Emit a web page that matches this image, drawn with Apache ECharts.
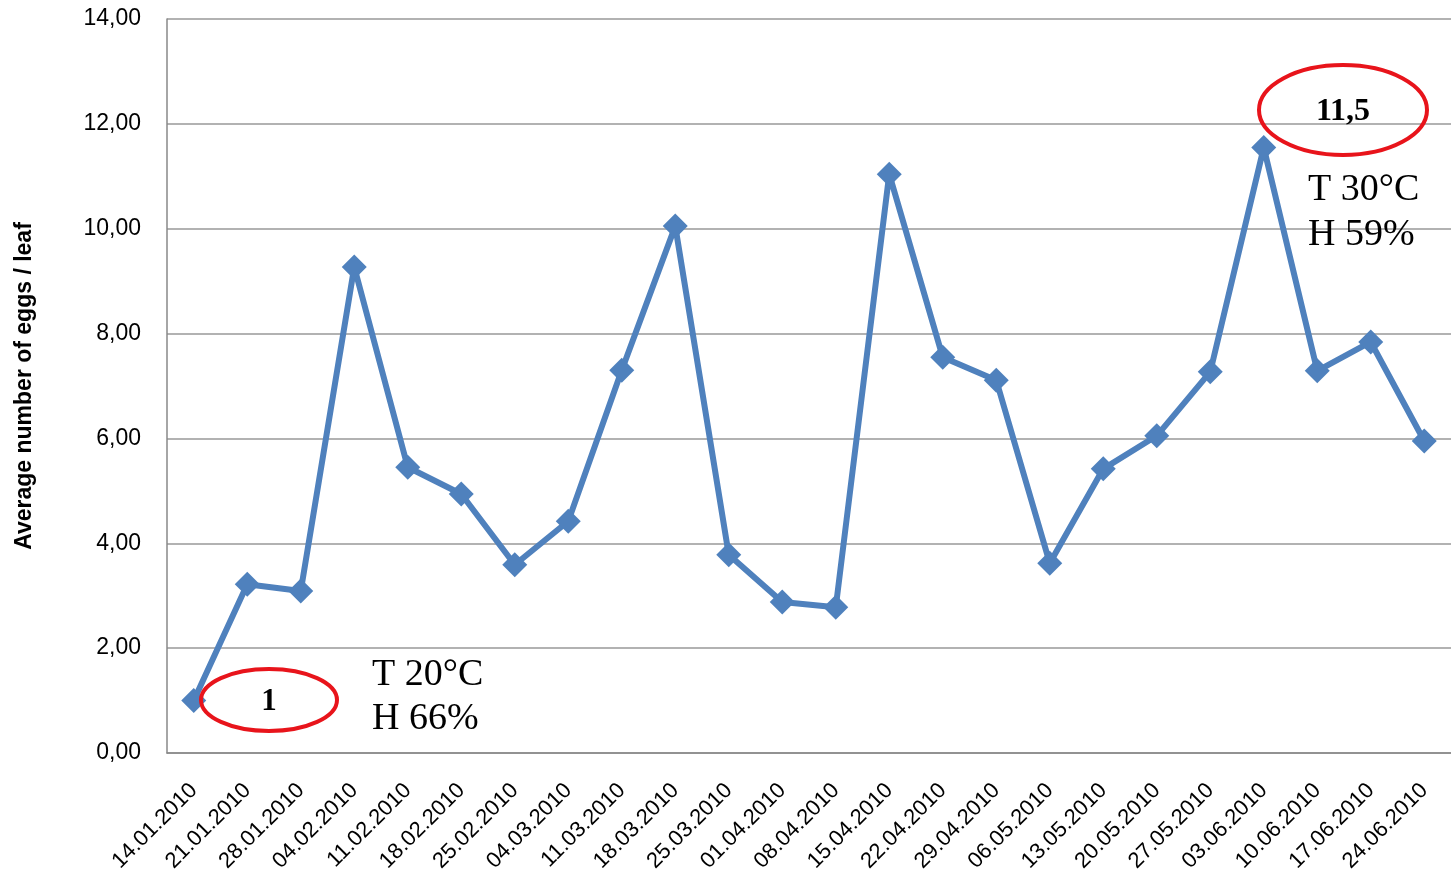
<!DOCTYPE html>
<html>
<head>
<meta charset="utf-8">
<script src="https://cdn.jsdelivr.net/npm/echarts@6/dist/echarts.min.js"></script>
<style>html,body{margin:0;padding:0;background:#fff;}#c{width:1451px;height:880px;}</style>
</head>
<body>
<div id="c"></div>
<script>
const categories = ['14.01.2010','21.01.2010','28.01.2010','04.02.2010','11.02.2010','18.02.2010','25.02.2010','04.03.2010','11.03.2010','18.03.2010','25.03.2010','01.04.2010','08.04.2010','15.04.2010','22.04.2010','29.04.2010','06.05.2010','13.05.2010','20.05.2010','27.05.2010','03.06.2010','10.06.2010','17.06.2010','24.06.2010'];
const eggs = [1.00,3.22,3.09,9.27,5.45,4.94,3.59,4.42,7.30,10.05,3.78,2.88,2.78,11.04,7.55,7.11,3.62,5.42,6.05,7.27,11.55,7.29,7.84,5.95];
const yAxisName = 'Average number of eggs / leaf';
const notes = [
  {label:'1', lines:['T 20°C','H 66%']},
  {label:'11,5', lines:['T 30°C','H 59%']}
];

const chart = echarts.init(document.getElementById('c'));
chart.setOption({
  animation:false,
  grid:{left:167, top:19, right:0, bottom:127, outerBoundsMode:'none', containLabel:false},
  xAxis:{
    type:'category', data:categories, boundaryGap:true,
    axisLine:{lineStyle:{color:'#888', width:1.5}},
    axisTick:{show:false},
    axisLabel:{rotate:45, fontSize:22, color:'#000', fontFamily:'Liberation Sans', margin:34, interval:0}
  },
  yAxis:{
    type:'value', min:0, max:14, interval:2,
    name:yAxisName, nameLocation:'middle', nameGap:131, nameRotate:90,
    nameTextStyle:{fontSize:23, fontWeight:'bold', color:'#000', fontFamily:'Liberation Sans'},
    axisLine:{show:true, lineStyle:{color:'#888', width:1.5}},
    axisTick:{show:false},
    splitLine:{lineStyle:{color:'#999', width:1.5}},
    axisLabel:{fontSize:23, color:'#000', fontFamily:'Liberation Sans', margin:26,
      formatter:v=>v.toFixed(2).replace('.',',')}
  },
  series:[{
    type:'line', data:eggs,
    lineStyle:{color:'#4F81BD', width:6},
    itemStyle:{color:'#4F81BD'},
    symbol:'diamond', symbolSize:25, z:3
  }],
  graphic:[
    {type:'ellipse', shape:{cx:269, cy:700, rx:68, ry:31}, style:{fill:'none', stroke:'#E8141B', lineWidth:4}, z:10},
    {type:'text', x:269, y:702, style:{text:notes[0].label, font:'bold 31px "Liberation Serif"', fill:'#000', textAlign:'center', textVerticalAlign:'middle'}, z:11},
    {type:'text', x:372, y:675, style:{text:notes[0].lines[0], font:'38px "Liberation Serif"', fill:'#000', textVerticalAlign:'middle'}, z:11},
    {type:'text', x:372, y:719, style:{text:notes[0].lines[1], font:'38px "Liberation Serif"', fill:'#000', textVerticalAlign:'middle'}, z:11},
    {type:'ellipse', shape:{cx:1343, cy:110, rx:84, ry:45}, style:{fill:'none', stroke:'#E8141B', lineWidth:4}, z:10},
    {type:'text', x:1343, y:112, style:{text:notes[1].label, font:'bold 32px "Liberation Serif"', fill:'#000', textAlign:'center', textVerticalAlign:'middle'}, z:11},
    {type:'text', x:1308, y:190, style:{text:notes[1].lines[0], font:'38px "Liberation Serif"', fill:'#000', textVerticalAlign:'middle'}, z:11},
    {type:'text', x:1308, y:235, style:{text:notes[1].lines[1], font:'38px "Liberation Serif"', fill:'#000', textVerticalAlign:'middle'}, z:11}
  ]
});
</script>
</body>
</html>
